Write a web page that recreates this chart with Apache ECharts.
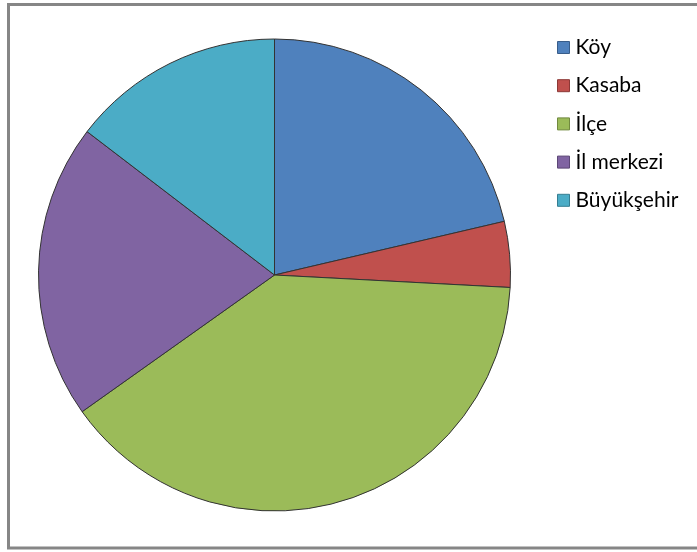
<!DOCTYPE html>
<html>
<head>
<meta charset="utf-8">
<script src="https://cdn.jsdelivr.net/npm/echarts@6/dist/echarts.min.js"></script>
<style>
  html, body { margin: 0; padding: 0; background: #fff; }
  #chart { width: 697px; height: 552px; }
</style>
</head>
<body>
<div id="chart"></div>
<script>
// Settlement categories and their counts
const categories = ['Köy', 'Kasaba', 'İlçe', 'İl merkezi', 'Büyükşehir'];
const counts = [19, 4, 35, 18, 13];
const colors = ['#4F81BD', '#C0504D', '#9BBB59', '#8064A2', '#4BACC6'];
const borderColors = ['#385D8A', '#8C3836', '#71893F', '#5C4776', '#357D91'];

const chart = echarts.init(document.getElementById('chart'), null, { renderer: 'canvas' });

chart.setOption({
  animation: false,
  backgroundColor: '#ffffff',
  graphic: [{
    type: 'rect',
    shape: { x: 8.5, y: 4.5, width: 720, height: 543.5 },
    style: { fill: 'none', stroke: '#868686', lineWidth: 3 },
    z: 100
  }],
  legend: {
    orient: 'vertical',
    left: 552,
    top: 32,
    itemWidth: 12,
    itemHeight: 12,
    itemGap: 17.2,
    icon: 'rect',
    textStyle: {
      fontFamily: 'Lato',
      fontSize: 21,
      lineHeight: 21,
      color: '#000',
      padding: [0, 0, 0, 1]
    },
    data: categories.map((name, i) => ({
      name,
      itemStyle: { color: colors[i], borderColor: borderColors[i], borderWidth: 1 }
    }))
  },
  series: [{
    type: 'pie',
    center: [274.5, 275],
    radius: 236,
    startAngle: 90,
    clockwise: true,
    label: { show: false },
    labelLine: { show: false },
    emphasis: { disabled: true },
    itemStyle: { borderColor: '#333333', borderWidth: 1 },
    data: categories.map((name, i) => ({
      name,
      value: counts[i],
      itemStyle: { color: colors[i] }
    }))
  }]
});
</script>
</body>
</html>
